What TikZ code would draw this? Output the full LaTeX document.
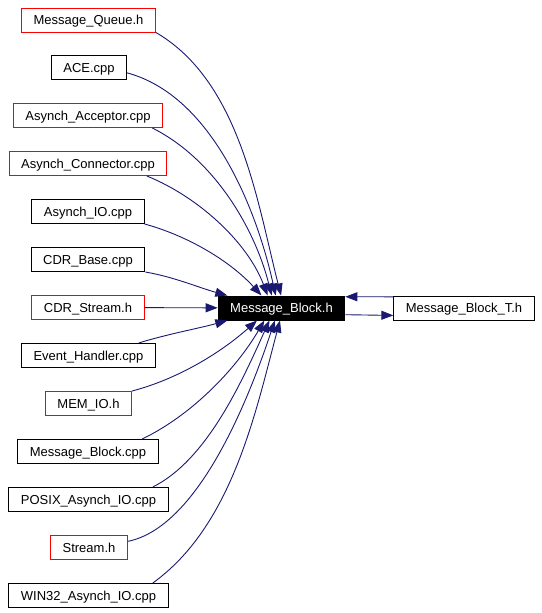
\documentclass[tikz,border=0pt]{standalone}
\usepackage{fontspec}
\setmainfont{Liberation Sans}
\usepackage{tikz}
\usetikzlibrary{shapes}
\usetikzlibrary{arrows.meta}

\begin{document}
\begin{tikzpicture}[x=1pt,y=1pt,every node/.style={rectangle,draw,line width=1pt,inner xsep=12pt,inner ysep=0pt,minimum height=24pt,text height=9pt,text depth=0pt,font=\fontsize{13}{15}\selectfont},
						trunc/.style={draw=red},
						dep/.style={draw={rgb,255:red,25;green,25;blue,112},line width=0.9pt,-{Triangle[length=12pt,width=9pt]}}
						]
						\useasboundingbox (0,0) rectangle (541,-613);
						\node[trunc](mq) at (88.5,-20) {Message\_Queue.h};
						\node(ace) at (89,-67.5) {ACE.cpp};
						\node[trunc](acc) at (88,-115.5) {Asynch\_Acceptor.cpp};
						\node[trunc](con) at (88,-163.5) {Asynch\_Connector.cpp};
						\node(aio) at (88,-211.5) {Asynch\_IO.cpp};
						\node(base) at (88,-259.5) {CDR\_Base.cpp};
						\node[trunc](cdrs) at (88,-307.5) {CDR\_Stream.h};
						\node(eh) at (88.5,-355.5) {Event\_Handler.cpp};
						\node[trunc](memio) at (88.5,-403.5) {MEM\_IO.h};
						\node(mbcpp) at (88,-451.5) {Message\_Block.cpp};
						\node(posix) at (88.5,-499.5) {POSIX\_Asynch\_IO.cpp};
						\node[trunc](stream) at (89,-547.5) {Stream.h};
						\node(win32) at (88.5,-595.5) {WIN32\_Asynch\_IO.cpp};
						\node[fill=black,text=white](mb) at (281.5,-308) {Message\_Block.h};
						\node(mbt) at (464,-308) {Message\_Block\_T.h};
						\draw[dep] (mq.south east) .. controls +(84,-49) and +(-24,94) .. (mb.92);
						\draw[dep] (ace.-8) .. controls +(85,-23) and +(-19,86) .. (mb.115);
						\draw[dep] (acc.-11) .. controls +(62,-31) and +(-17,67) .. (mb.128);
						\draw[dep] (con.-12) .. controls +(52,-21) and +(-20,53) .. (mb.138);
						\draw[dep] (aio.south east) .. controls +(44,-12) and +(-31,34) .. (mb.148);
						\draw[dep] (base.south east) .. controls +(29,-5) and +(-29,8) .. (mb.167);
						\draw[dep] (cdrs) -- (mb);
						\draw[dep] (eh.14) .. controls +(29,9) and +(-29,-8) .. (mb.193);
						\draw[dep] (memio.north east) .. controls +(46,12) and +(-36,-32) .. (mb.207);
						\draw[dep] (mbcpp.13) .. controls +(50,24) and +(-28,-48) .. (mb.216);
						\draw[dep] (posix.11) .. controls +(54,27) and +(-28,-62) .. (mb.226);
						\draw[dep] (stream.9) .. controls +(69,14) and +(-28,-84) .. (mb.242);
						\draw[dep] (win32.11) .. controls +(79,57) and +(-25,-94) .. (mb.263);
						\draw[dep] (mbt.171) -- (mb.10);
						\draw[dep] (mb.-6) -- (mbt.186);
						\end{tikzpicture}
\end{document}
